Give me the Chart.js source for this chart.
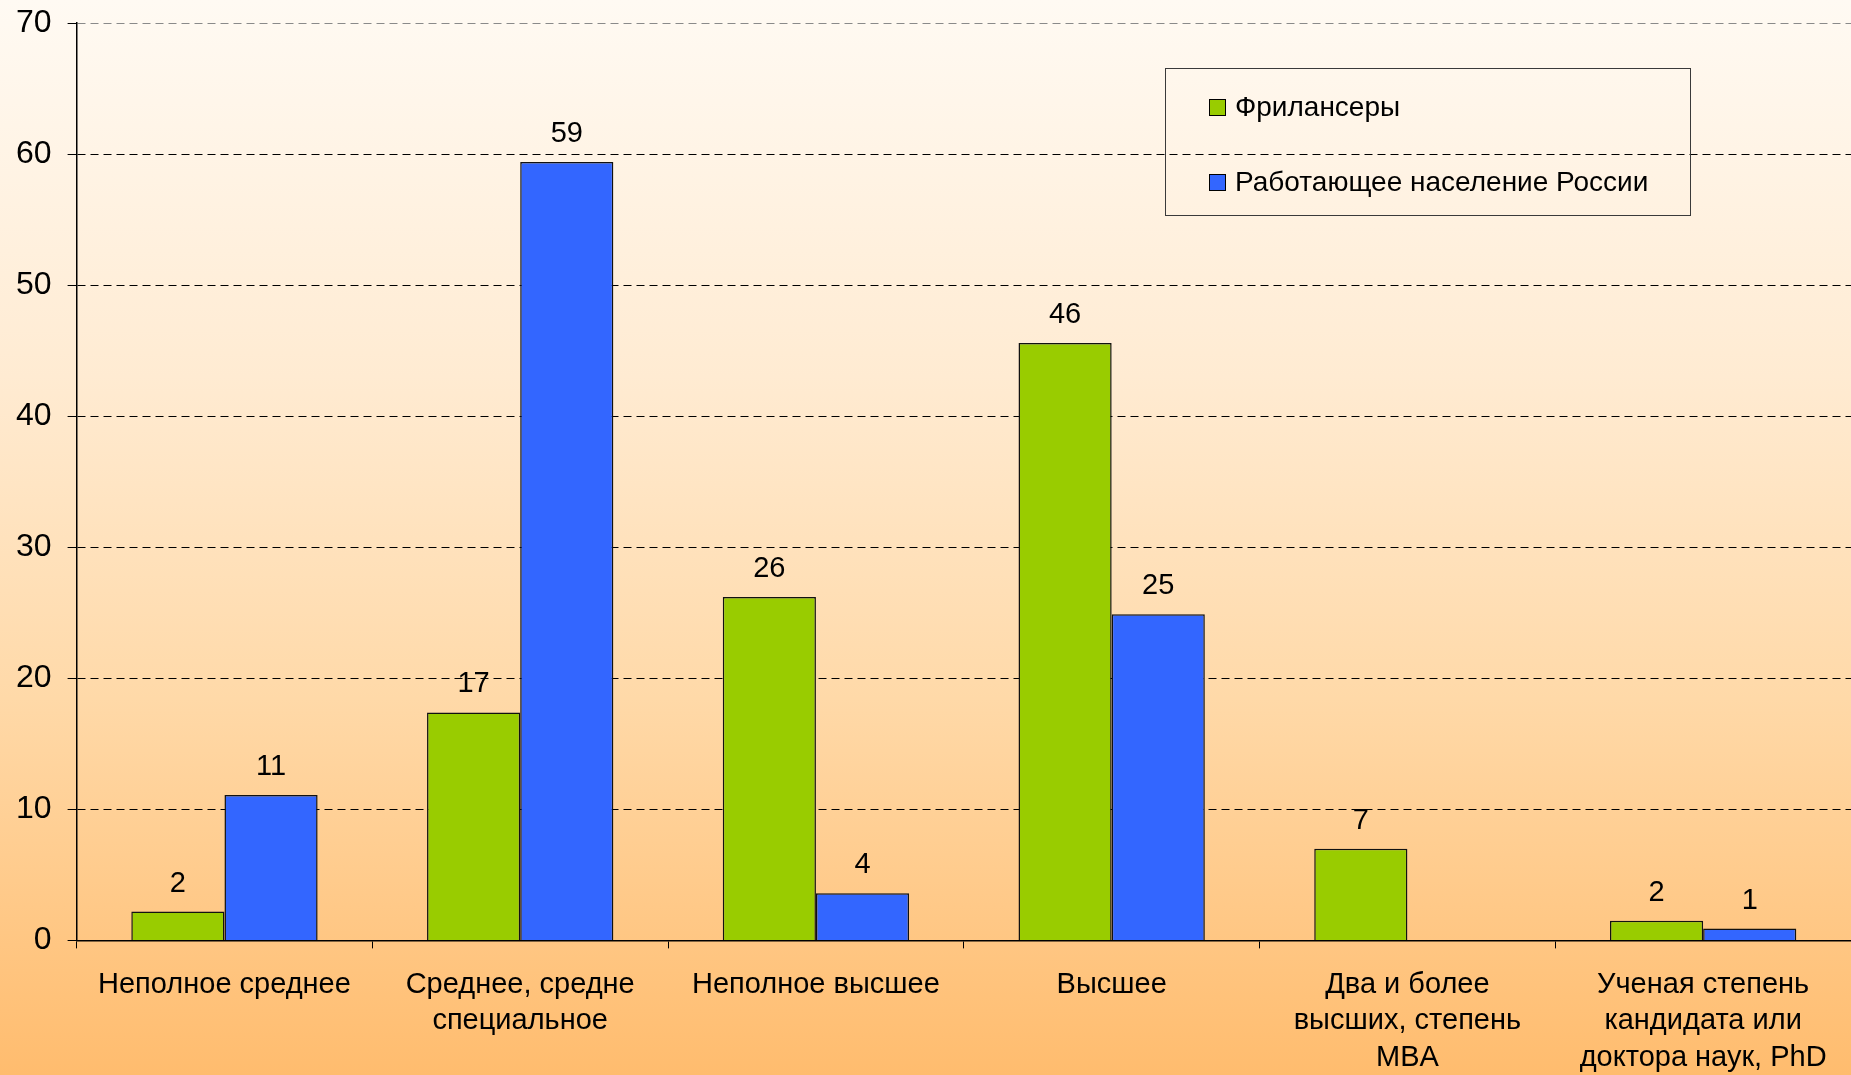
<!DOCTYPE html>
<html>
<head>
<meta charset="utf-8">
<script src="https://cdn.jsdelivr.net/npm/chart.js@4.4.1/dist/chart.umd.min.js"></script>
<style>
    html, body { margin: 0; padding: 0; }
    body {
        width: 1851px;
        height: 1075px;
        overflow: hidden;
        background: linear-gradient(to bottom, #FFFAF3 0%, #FFEBD2 35%, #FFD9A8 65%, #FFBC6E 100%);
        font-family: 'Liberation Sans', Arial, sans-serif;
    }
    #wrap { position: relative; width: 1851px; height: 1075px; }
    #eduChart { position: absolute; left: 0; top: 0; }
    #legendBox {
        position: absolute;
        left: 1165px;
        top: 68px;
        width: 526px;
        height: 148px;
        border: 1px solid #3a3a3a;
        box-sizing: border-box;
    }
    .legend-item {
        position: absolute;
        left: 43px;
        display: flex;
        align-items: center;
        font-size: 28px;
        color: #000;
        line-height: 1;
    }
    .legend-swatch {
        width: 15px;
        height: 15px;
        border: 1px solid #000;
        margin-right: 9px;
    }
</style>
</head>
<body>
<div id="wrap">
    <canvas id="eduChart" width="1851" height="1075"></canvas>
    <div id="legendBox"></div>
</div>
<script>
const eduCategories = [
    'Неполное среднее',
    ['Среднее, средне', 'специальное'],
    'Неполное высшее',
    'Высшее',
    ['Два и более', 'высших, степень', 'MBA'],
    ['Ученая степень', 'кандидата или', 'доктора наук, PhD']
];
const freelancerValues = [2.2, 17.4, 26.2, 45.6, 7.0, 1.5];
const workforceValues = [11.1, 59.4, 3.6, 24.9, null, 0.9];
const seriesNames = ['Фрилансеры', 'Работающее население России'];
const seriesColors = ['#99CC00', '#3366FF'];
const yTicks = [0, 10, 20, 30, 40, 50, 60, 70];

Chart.defaults.font.family = "'Liberation Sans', Arial, sans-serif";
Chart.defaults.color = '#000';

// values above bars, rounded like the original
const eduValueLabels = {
    id: 'eduValueLabels',
    afterDatasetsDraw(chart) {
        const ctx = chart.ctx;
        ctx.save();
        ctx.font = "29px 'Liberation Sans', Arial, sans-serif";
        ctx.fillStyle = '#000';
        ctx.textAlign = 'center';
        ctx.textBaseline = 'middle';
        chart.data.datasets.forEach((ds, i) => {
            const meta = chart.getDatasetMeta(i);
            meta.data.forEach((bar, j) => {
                const v = ds.data[j];
                if (v === null || v === undefined) return;
                ctx.fillText(String(Math.round(v)), bar.x, bar.y - 28);
            });
        });
        ctx.restore();
    }
};

const eduCtx = document.getElementById('eduChart').getContext('2d');
const eduChart = new Chart(eduCtx, {
    type: 'bar',
    data: {
        labels: eduCategories,
        datasets: [
            {
                label: seriesNames[0],
                data: freelancerValues,
                backgroundColor: seriesColors[0],
                borderColor: '#111',
                borderWidth: 1.5
            },
            {
                label: seriesNames[1],
                data: workforceValues,
                backgroundColor: seriesColors[1],
                borderColor: '#111',
                borderWidth: 1.5
            }
        ]
    },
    options: {
        responsive: false,
        animation: false,
        layout: { padding: { left: 0, top: 0, right: 0, bottom: -19 } },
        categoryPercentage: 0.63,
        barPercentage: 1,
        plugins: {
            legend: { display: false },
            tooltip: { enabled: false }
        },
        scales: {
            x: {
                offset: true,
                grid: {
                    offset: true,
                    drawOnChartArea: false,
                    drawTicks: true,
                    tickLength: 8,
                    tickColor: '#000',
                    tickWidth: 1
                },
                border: { display: true, color: '#000', width: 1.5 },
                ticks: {
                    autoSkip: false,
                    maxRotation: 0,
                    minRotation: 0,
                    padding: 18,
                    color: '#000',
                    font: { size: 29, lineHeight: 1.26 }
                }
            },
            y: {
                min: 0,
                max: 70,
                afterBuildTicks(scale) {
                    scale.ticks = yTicks.map(v => ({ value: v }));
                },
                grid: {
                    color: c => (c.tick && c.tick.value === 70 ? '#8a8a8a' : '#000'),
                    lineWidth: 1,
                    drawTicks: true,
                    tickLength: 9,
                    tickColor: '#000',
                    tickBorderDash: [],
                    tickWidth: 1
                },
                border: { display: true, color: '#000', width: 1.5, dash: [8, 5] },
                ticks: {
                    padding: 16,
                    color: '#000',
                    font: { size: 32, lineHeight: 0.45 }
                }
            }
        }
    },
    plugins: [eduValueLabels]
});

// legend box built from the datasets
const legendBox = document.getElementById('legendBox');
const legendRows = [38, 113];
eduChart.data.datasets.forEach((ds, i) => {
    const item = document.createElement('div');
    item.className = 'legend-item';
    item.style.top = (legendRows[i] - 15) + 'px';
    item.style.height = '30px';
    const sw = document.createElement('span');
    sw.className = 'legend-swatch';
    sw.style.background = ds.backgroundColor;
    const txt = document.createElement('span');
    txt.textContent = ds.label;
    item.appendChild(sw);
    item.appendChild(txt);
    legendBox.appendChild(item);
});
</script>
</body>
</html>
